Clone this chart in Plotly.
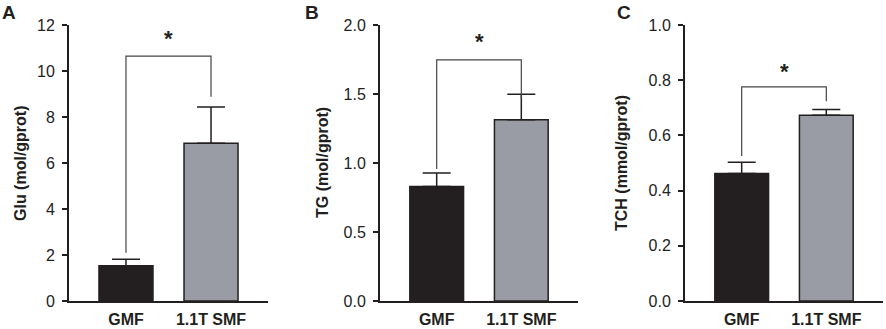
import plotly.graph_objects as go

# ---------------- data ----------------
groups = ["GMF", "1.1T SMF"]

glu_mean = [1.53, 6.86]
glu_sem = [0.28, 1.57]

tg_mean = [0.83, 1.313]
tg_sem = [0.097, 0.185]

tch_mean = [0.462, 0.673]
tch_sem = [0.041, 0.021]

panel_letters = ["A", "B", "C"]
y_titles = ["Glu (mol/gprot)", "TG (mol/gprot)", "TCH (mmol/gprot)"]
y_max = [12, 2.0, 1.0]
y_dtick = [2, 0.5, 0.2]
y_fmt = ["d", ".1f", ".1f"]

# significance brackets: top level, left leg bottom, right leg bottom, star level
bracket_top = [10.65, 1.747, 0.776]
bracket_left = [2.1, 0.956, 0.525]
bracket_right = [8.88, 1.469, 0.724]
star_y = [11.4, 1.88, 0.83]
sig_label = ["*", "*", "*"]

# ---------------- layout constants ----------------
W, H = 886, 329
FONT = "Liberation Sans, Arial, Helvetica, sans-serif"
DARK = "#231f20"
BAR_COLORS = [DARK, "#9a9ca5"]

x_domains_px = [(69, 268), (380, 578), (685, 883)]
y_bottom_px, y_top_px = 301, 25
title_x_px = [20, 322, 621]
letter_px = [(9, 13), (312, 13), (624, 13)]

means = [glu_mean, tg_mean, tch_mean]
sems = [glu_sem, tg_sem, tch_sem]

fig = go.Figure()
shapes = []
annotations = []

for i in range(3):
    sfx = "" if i == 0 else str(i + 1)
    xa, ya = "x" + sfx, "y" + sfx
    fig.add_trace(go.Bar(
        x=groups, y=means[i], xaxis=xa, yaxis=ya,
        width=0.635,
        marker=dict(color=BAR_COLORS, line=dict(color=DARK, width=1.5)),
        error_y=dict(type="data", array=sems[i], arrayminus=[0, 0], symmetric=False,
                     color=DARK, thickness=1.5, width=14),
        showlegend=False, hoverinfo="skip",
    ))
    d0, d1 = x_domains_px[i]
    fig.layout["xaxis" + sfx] = dict(
        domain=[d0 / W, d1 / W], anchor=ya, type="category", automargin=False,
        range=[-0.67, 1.67], showline=True, linecolor=DARK, linewidth=2,
        ticks="", showgrid=False, zeroline=False, fixedrange=True,
        tickfont=dict(family=FONT, size=16, color=DARK, weight="bold"),
        ticklabelstandoff=3,
    )
    fig.layout["yaxis" + sfx] = dict(
        domain=[(H - y_bottom_px) / H, (H - y_top_px) / H], anchor=xa, automargin=False,
        range=[0, y_max[i]], dtick=y_dtick[i], tick0=0, tickformat=y_fmt[i],
        showline=True, linecolor=DARK, linewidth=2,
        ticks="outside", ticklen=5, tickwidth=2, tickcolor=DARK,
        showgrid=False, zeroline=False, fixedrange=True,
        tickfont=dict(family=FONT, size=16, color="#222222"),
        ticklabelstandoff=4,
    )
    # bracket
    line = dict(color="#444444", width=1.2)
    shapes.append(dict(type="path", xref=xa, yref=ya, line=line,
                       path=f"M 0 {bracket_left[i]} L 0 {bracket_top[i]} L 1 {bracket_top[i]} L 1 {bracket_right[i]}"))
    annotations.append(dict(x=0.5, y=star_y[i], xref=xa, yref=ya, text=sig_label[i],
                            showarrow=False, xanchor="center", yanchor="middle",
                            font=dict(family=FONT, size=22, color=DARK, weight="bold")))
    # y title
    annotations.append(dict(x=title_x_px[i] / W, y=0.5, xref="paper", yref=ya + " domain",
                            text=y_titles[i], textangle=-90, showarrow=False,
                            xanchor="center", yanchor="middle",
                            font=dict(family=FONT, size=16, color=DARK, weight="bold")))
    # panel letter
    lx, ly = letter_px[i]
    annotations.append(dict(x=lx / W, y=1 - ly / H, xref="paper", yref="paper",
                            text=panel_letters[i], showarrow=False,
                            xanchor="center", yanchor="middle",
                            font=dict(family=FONT, size=19, color=DARK, weight="bold")))

fig.update_layout(
    width=W, height=H, margin=dict(l=0, r=0, t=0, b=0, autoexpand=False),
    paper_bgcolor="white", plot_bgcolor="white",
    shapes=shapes, annotations=annotations, bargap=0.3,
)

fig.write_html("out.html", config={"displayModeBar": False},
               post_script="document.body.style.margin='0';document.body.style.overflow='hidden';")
